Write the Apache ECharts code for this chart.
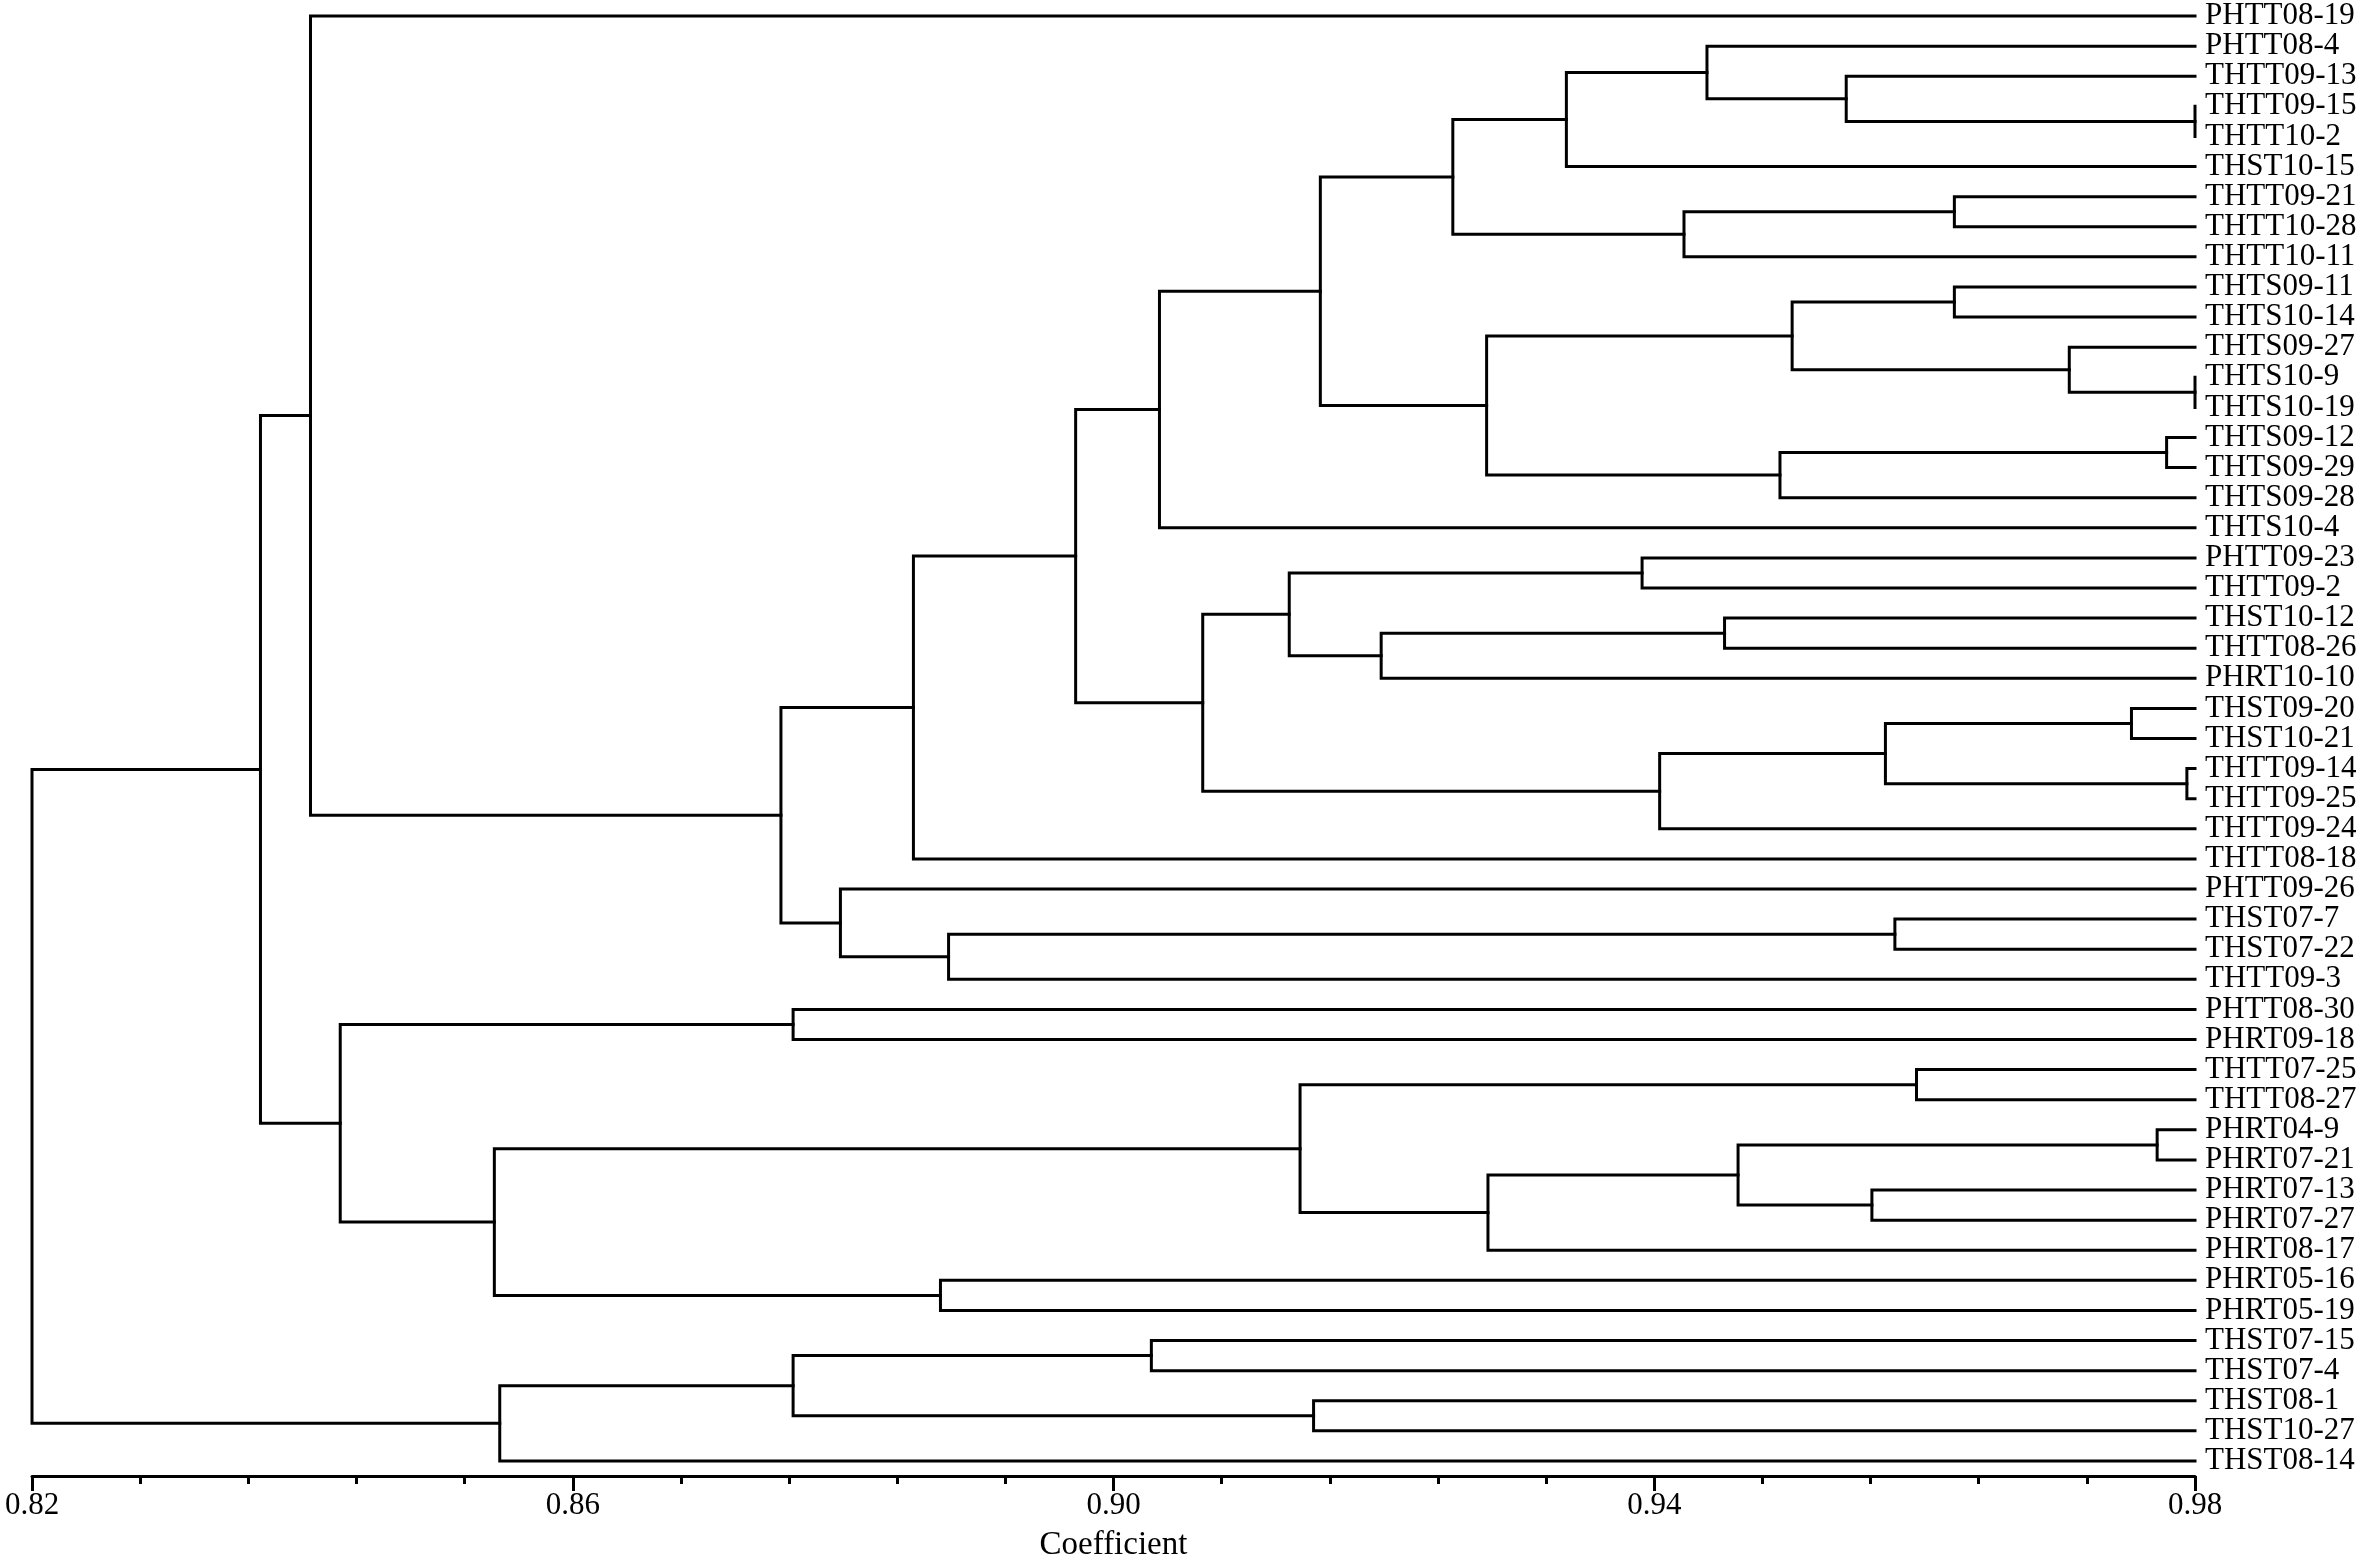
<!DOCTYPE html>
<html>
<head>
<meta charset="utf-8">
<title>Dendrogram</title>
<script src="https://cdn.jsdelivr.net/npm/echarts@6/dist/echarts.min.js"></script>
<style>
  html, body { margin: 0; padding: 0; background: #fff; }
  #chart { width: 2362px; height: 1567px; }
</style>
</head>
<body>
<div id="chart"></div>
<script>
// leaf order, top to bottom
const leaves = [
  'PHTT08-19', 'PHTT08-4', 'THTT09-13', 'THTT09-15', 'THTT10-2', 'THST10-15',
  'THTT09-21', 'THTT10-28', 'THTT10-11', 'THTS09-11', 'THTS10-14', 'THTS09-27',
  'THTS10-9', 'THTS10-19', 'THTS09-12', 'THTS09-29', 'THTS09-28', 'THTS10-4',
  'PHTT09-23', 'THTT09-2', 'THST10-12', 'THTT08-26', 'PHRT10-10', 'THST09-20',
  'THST10-21', 'THTT09-14', 'THTT09-25', 'THTT09-24', 'THTT08-18', 'PHTT09-26',
  'THST07-7', 'THST07-22', 'THTT09-3', 'PHTT08-30', 'PHRT09-18', 'THTT07-25',
  'THTT08-27', 'PHRT04-9', 'PHRT07-21', 'PHRT07-13', 'PHRT07-27', 'PHRT08-17',
  'PHRT05-16', 'PHRT05-19', 'THST07-15', 'THST07-4', 'THST08-1', 'THST10-27',
  'THST08-14'
];

// merges: [child a, child b, coefficient]; a number means an earlier merge (row index)
const linkage = [
  ['THTT09-15', 'THTT10-2', 0.98],     // 0
  ['THTT09-13', 0, 0.9542],            // 1
  ['PHTT08-4', 1, 0.9439],             // 2
  [2, 'THST10-15', 0.9335],            // 3
  ['THTT09-21', 'THTT10-28', 0.9622],  // 4
  [4, 'THTT10-11', 0.9422],            // 5
  [3, 5, 0.9251],                      // 6
  ['THTS09-11', 'THTS10-14', 0.9622],  // 7
  ['THTS10-9', 'THTS10-19', 0.98],     // 8
  ['THTS09-27', 8, 0.9707],            // 9
  [7, 9, 0.9502],                      // 10
  ['THTS09-12', 'THTS09-29', 0.9779],  // 11
  [11, 'THTS09-28', 0.9493],           // 12
  [10, 12, 0.9276],                    // 13
  [6, 13, 0.9153],                     // 14
  [14, 'THTS10-4', 0.9034],            // 15
  ['PHTT09-23', 'THTT09-2', 0.9391],   // 16
  ['THST10-12', 'THTT08-26', 0.9452],  // 17
  [17, 'PHRT10-10', 0.9198],           // 18
  [16, 18, 0.9130],                    // 19
  ['THST09-20', 'THST10-21', 0.9753],  // 20
  ['THTT09-14', 'THTT09-25', 0.9794],  // 21
  [20, 21, 0.9571],                    // 22
  [22, 'THTT09-24', 0.9404],           // 23
  [19, 23, 0.9066],                    // 24
  [15, 24, 0.8972],                    // 25
  [25, 'THTT08-18', 0.8852],           // 26
  ['THST07-7', 'THST07-22', 0.9578],   // 27
  [27, 'THTT09-3', 0.8878],            // 28
  ['PHTT09-26', 28, 0.8798],           // 29
  [26, 29, 0.8754],                    // 30
  ['PHTT08-19', 30, 0.8406],           // 31
  ['PHTT08-30', 'PHRT09-18', 0.8763],  // 32
  ['THTT07-25', 'THTT08-27', 0.9594],  // 33
  ['PHRT04-9', 'PHRT07-21', 0.9772],   // 34
  ['PHRT07-13', 'PHRT07-27', 0.9561],  // 35
  [34, 35, 0.9462],                    // 36
  [36, 'PHRT08-17', 0.9277],           // 37
  [33, 37, 0.9138],                    // 38
  ['PHRT05-16', 'PHRT05-19', 0.8872],  // 39
  [38, 39, 0.8542],                    // 40
  [32, 40, 0.8428],                    // 41
  [31, 41, 0.8369],                    // 42
  ['THST07-15', 'THST07-4', 0.9028],   // 43
  ['THST08-1', 'THST10-27', 0.9148],   // 44
  [43, 44, 0.8763],                    // 45
  [45, 'THST08-14', 0.8546],           // 46
  [42, 46, 0.82]                       // 47 root
];

const xMin = 0.82;
const xMax = 0.98;
const xStep = 0.04;

// build the elbow polylines from the linkage
const leafIndex = {};
leaves.forEach((name, i) => { leafIndex[name] = i; });
const nodes = [];
function nodePos(ref) {
  if (typeof ref === 'number') return nodes[ref];
  return { x: xMax, y: leafIndex[ref] };
}
const segments = linkage.map(([a, b, h]) => {
  const pa = nodePos(a);
  const pb = nodePos(b);
  nodes.push({ x: h, y: (pa.y + pb.y) / 2 });
  return {
    coords: [[pa.x, pa.y], [h, pa.y], [h, pb.y], [pb.x, pb.y]]
  };
});

const FONT = 'Liberation Serif';
const chart = echarts.init(document.getElementById('chart'));

chart.setOption({
  backgroundColor: '#fff',
  animation: false,
  grid: { left: 32, right: 167, top: 1, bottom: 89, containLabel: false },
  xAxis: {
    type: 'value',
    min: xMin,
    max: xMax,
    interval: xStep,
    position: 'bottom',
    name: 'Coefficient',
    nameLocation: 'middle',
    nameGap: 53,
    nameTextStyle: { color: '#000', fontFamily: FONT, fontSize: 33 },
    axisLine: { onZero: false, lineStyle: { color: '#000', width: 3 } },
    axisTick: { length: 15, lineStyle: { color: '#000', width: 3 } },
    minorTick: { show: true, splitNumber: 5, length: 8, lineStyle: { color: '#000', width: 3 } },
    splitLine: { show: false },
    axisLabel: {
      color: '#000', fontFamily: FONT, fontSize: 31, margin: 14,
      formatter: v => v.toFixed(2)
    }
  },
  yAxis: [
    {
      type: 'category',
      data: leaves,
      inverse: true,
      position: 'right',
      boundaryGap: true,
      axisLine: { show: false },
      axisTick: { show: false },
      splitLine: { show: false },
      axisLabel: { color: '#000', fontFamily: FONT, fontSize: 31, margin: 10, interval: 0 }
    },
    {
      type: 'value',
      min: -0.5,
      max: leaves.length - 0.5,
      inverse: true,
      show: false,
      splitLine: { show: false }
    }
  ],
  series: [{
    type: 'lines',
    coordinateSystem: 'cartesian2d',
    xAxisIndex: 0,
    yAxisIndex: 1,
    polyline: true,
    silent: true,
    lineStyle: { color: '#000', width: 3, opacity: 1, cap: 'square', join: 'miter' },
    data: segments
  }]
});
</script>
</body>
</html>
